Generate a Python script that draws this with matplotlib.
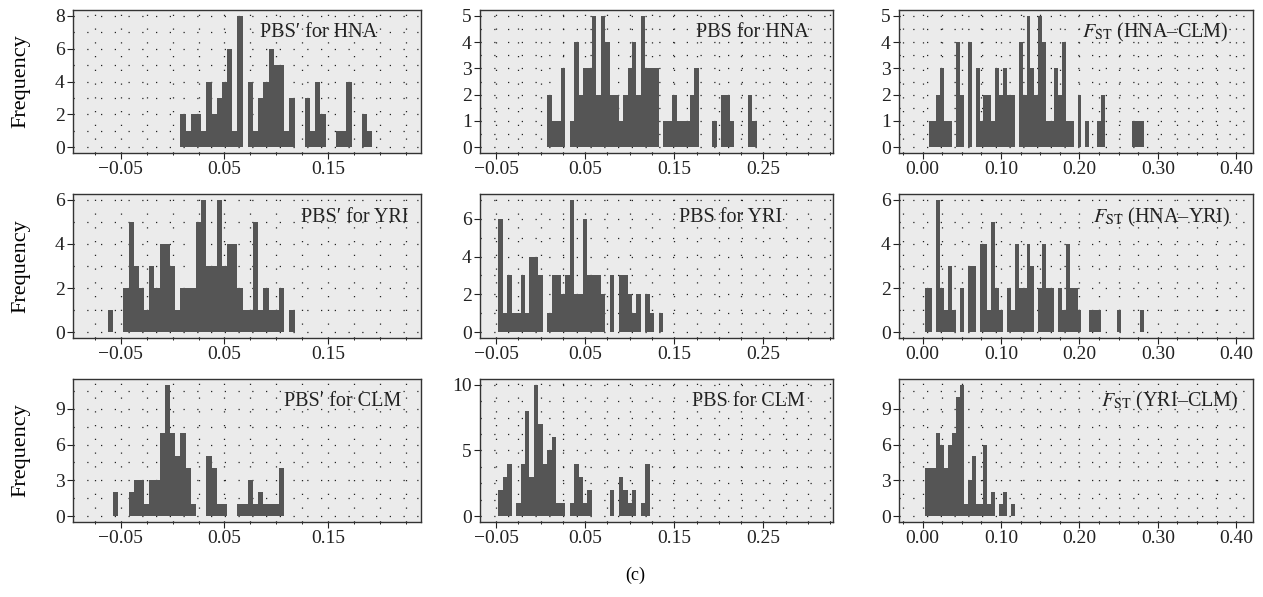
import numpy as np
import matplotlib
matplotlib.use("Agg")
import matplotlib.pyplot as plt
from matplotlib.ticker import FixedLocator, MultipleLocator, FuncFormatter

# bin width shared by all histograms
BIN_W = 0.005

# row 1: HNA
pbs2_hna_start = 0.0075
pbs2_hna = [2, 1, 2, 2, 1, 4, 2, 3, 4, 6, 1, 8, 0, 4, 1, 3, 4, 6, 5, 5, 1, 3,
            0, 0, 3, 1, 4, 2, 0, 0, 1, 1, 4, 0, 0, 2, 1]
pbs_hna_start = 0.0075
pbs_hna = [2, 1, 1, 3, 0, 1, 4, 2, 3, 3, 5, 2, 5, 4, 2, 2, 1, 2, 3, 4, 2, 5,
           3, 3, 3, 0, 1, 1, 2, 1, 1, 1, 2, 3, 0, 0, 0, 1, 0, 2, 2, 1, 0, 0,
           0, 2, 1]
fst_hna_clm_start = 0.0075
fst_hna_clm = [1, 1, 2, 3, 1, 1, 0, 4, 2, 0, 4, 0, 3, 1, 2, 2, 1, 3, 2, 3, 2,
               2, 0, 4, 2, 5, 3, 2, 5, 4, 1, 1, 3, 2, 4, 1, 1, 0, 2, 0, 1, 0,
               0, 1, 2, 0, 0, 0, 0, 0, 0, 0, 1, 1, 1]

# row 2: YRI
pbs2_yri_start = -0.0625
pbs2_yri = [1, 0, 0, 2, 5, 3, 2, 1, 3, 2, 4, 4, 3, 1, 2, 2, 2, 5, 6, 3, 3, 6,
            3, 4, 4, 2, 1, 1, 5, 1, 2, 1, 1, 2, 0, 1]
pbs_yri_start = -0.0475
pbs_yri = [6, 1, 3, 1, 1, 3, 1, 4, 4, 3, 0, 1, 3, 3, 2, 3, 7, 2, 2, 6, 3, 3,
           3, 2, 0, 3, 0, 3, 3, 2, 1, 2, 0, 2, 1, 0, 1]
fst_hna_yri_start = 0.0025
fst_hna_yri = [2, 2, 0, 6, 2, 1, 3, 1, 0, 2, 0, 3, 3, 0, 4, 4, 1, 5, 2, 1, 0,
               2, 1, 4, 2, 2, 4, 3, 0, 2, 4, 2, 2, 0, 2, 1, 4, 2, 2, 1, 0, 0,
               1, 1, 1, 0, 0, 0, 0, 1, 0, 0, 0, 0, 0, 1]

# row 3: CLM
pbs2_clm_start = -0.0575
pbs2_clm = [2, 0, 0, 2, 3, 3, 1, 3, 3, 7, 11, 7, 5, 7, 4, 1, 0, 0, 5, 4, 1, 1,
            0, 0, 1, 1, 3, 1, 2, 1, 1, 1, 4]
pbs_clm_start = -0.0475
pbs_clm = [2, 3, 4, 0, 1, 4, 8, 3, 10, 7, 4, 5, 6, 1, 1, 0, 1, 4, 3, 1, 2, 0,
           0, 0, 0, 2, 0, 3, 2, 1, 2, 0, 1, 4]
fst_yri_clm_start = 0.0025
fst_yri_clm = [4, 4, 4, 7, 6, 4, 6, 7, 10, 11, 1, 3, 5, 1, 1, 6, 1, 2, 0, 1, 2,
               0, 1]

titles = ["PBS\u2032 for HNA", "PBS for HNA", "$F_{\\mathrm{ST}}$ (HNA\u2013CLM)",
          "PBS\u2032 for YRI", "PBS for YRI", "$F_{\\mathrm{ST}}$ (HNA\u2013YRI)",
          "PBS\u2032 for CLM", "PBS for CLM", "$F_{\\mathrm{ST}}$ (YRI\u2013CLM)"]

col1_ticks = [-0.05, 0.05, 0.15]
col2_ticks = [-0.05, 0.05, 0.15, 0.25]
col3_ticks = [0.0, 0.1, 0.2, 0.3, 0.4]

plt.rcParams['font.family'] = ['Liberation Serif', 'DejaVu Serif']
plt.rcParams['mathtext.fontset'] = 'stix'

panels = [
    (pbs2_hna_start, pbs2_hna, [0, 2, 4, 6, 8], 1),
    (pbs_hna_start, pbs_hna, [0, 1, 2, 3, 4, 5], 0.5),
    (fst_hna_clm_start, fst_hna_clm, [0, 1, 2, 3, 4, 5], 0.5),
    (pbs2_yri_start, pbs2_yri, [0, 2, 4, 6], 1),
    (pbs_yri_start, pbs_yri, [0, 2, 4, 6], 1),
    (fst_hna_yri_start, fst_hna_yri, [0, 2, 4, 6], 1),
    (pbs2_clm_start, pbs2_clm, [0, 3, 6, 9], 1.5),
    (pbs_clm_start, pbs_clm, [0, 5, 10], 1.25),
    (fst_yri_clm_start, fst_yri_clm, [0, 3, 6, 9], 1.5),
]

# axes placement (pixels) and per-column settings
W, H = 1263, 597
col_px = [(73, 421), (480, 833), (899, 1253)]
row_px = [(10, 153), (194, 338), (379, 522)]
col_xlim = [(-0.096, 0.2394), (-0.068, 0.328), (-0.0302, 0.4213)]
col_ticks = [col1_ticks, col2_ticks, col3_ticks]
text_x = [0.875, 0.93, 0.93, 0.963, 0.855, 0.935, 0.944, 0.92, 0.958]

BG = "#ebebeb"
BAR = "#555555"

xfmt = FuncFormatter(lambda v, pos: f"{v:.2f}".replace("-", "\u2212"))

fig = plt.figure(figsize=(W / 100, H / 100), dpi=100)

for i, (start, counts, yticks, ygrid) in enumerate(panels):
    r, c = divmod(i, 3)
    x0, x1 = col_px[c]
    y0, y1 = row_px[r]
    ax = fig.add_axes([x0 / W, 1 - y1 / H, (x1 - x0) / W, (y1 - y0) / H])
    ax.set_facecolor(BG)

    counts = np.array(counts)
    edges = start + BIN_W * np.arange(len(counts) + 1)
    ax.bar(edges[:-1], counts, width=BIN_W, align='edge', color=BAR,
           linewidth=0, zorder=3)

    m = counts.max()
    ax.set_ylim(-0.045 * m, 1.045 * m)
    ax.set_xlim(*col_xlim[c])

    ax.xaxis.set_major_locator(FixedLocator(col_ticks[c]))
    ax.xaxis.set_major_formatter(xfmt)
    ax.xaxis.set_minor_locator(MultipleLocator(0.025))
    ax.yaxis.set_major_locator(FixedLocator(yticks))
    ax.yaxis.set_minor_locator(MultipleLocator(ygrid))

    ax.grid(which='both', color='#222222', linestyle=(0, (1, 10)),
            linewidth=0.9, zorder=1)
    ax.set_axisbelow(True)

    ax.tick_params(which='major', direction='out', length=4, width=0.8,
                   labelsize=14, colors='#222222', pad=2)
    ax.tick_params(which='minor', direction='out', length=1.5, width=0.6)
    ax.tick_params(axis='y', which='minor', length=0)
    for s in ax.spines.values():
        s.set_color('#333333')
        s.set_linewidth(1.0)

    ax.text(text_x[i], 0.84, titles[i], transform=ax.transAxes,
            ha='right', va='center', fontsize=14.5, color='#222222', zorder=5)

    if c == 0:
        ax.set_ylabel("Frequency", fontsize=16)
        ax.yaxis.set_label_coords((30 - x0) / (x1 - x0), 0.5)

fig.text(0.503, 0.037, "(c)", ha='center', va='center', fontsize=13)

fig.savefig("out.png", dpi=100)
